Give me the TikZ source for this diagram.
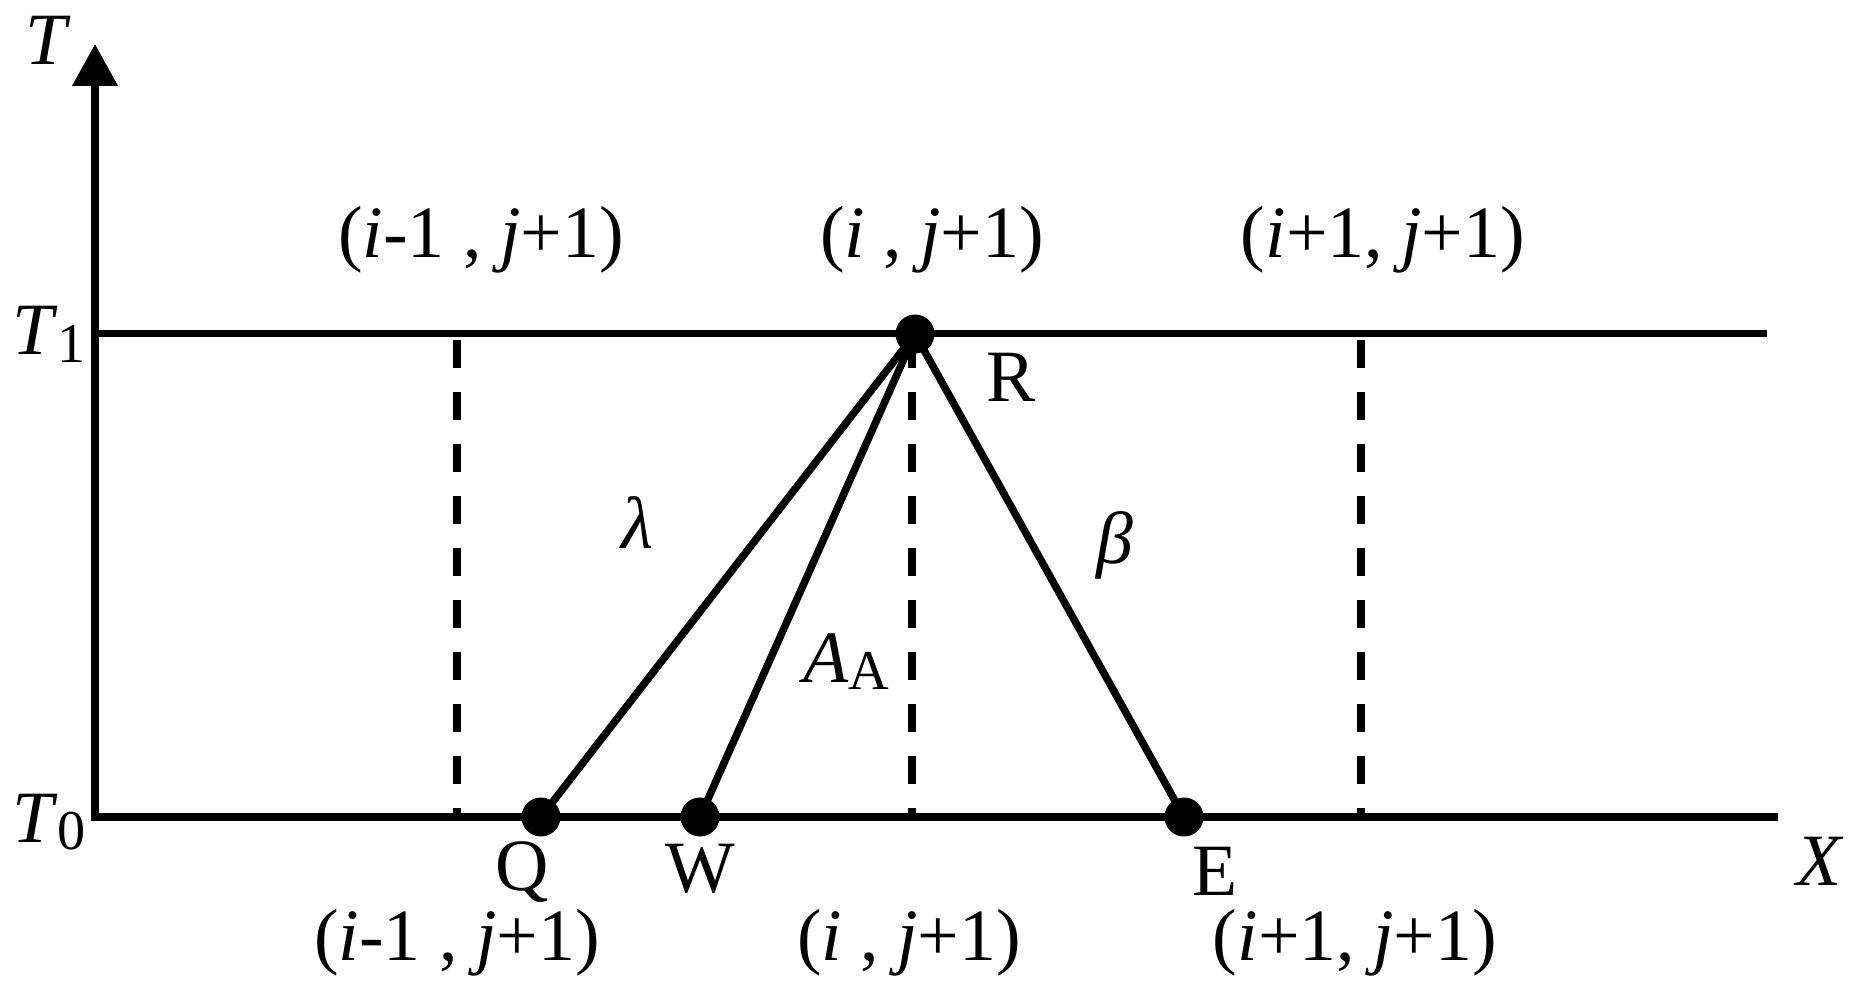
\documentclass[tikz,border=0pt]{standalone}
\usepackage{fontspec}
\setmainfont{Liberation Serif}
\usetikzlibrary{arrows.meta}

\newcommand{\lowsub}[1]{{\fontsize{32}{32}\selectfont\raisebox{-4pt}{#1}}}

\tikzset{
  axis/.style={line width=0.15cm, -{Triangle[length=0.84cm, width=0.88cm]}},
  gridline/.style={line width=0.15cm, dash pattern=on 0.56cm off 0.48cm},
  ray/.style={line width=0.15cm},
  dot/.style={circle, fill, inner sep=0pt, minimum size=0.78cm},
  lbl/.style={font=\fontsize{42}{50}\selectfont, inner sep=0pt, anchor=base},
}

\begin{document}
\begin{tikzpicture}[x=0.02cm, y=-0.02cm]
      \useasboundingbox (0,0) rectangle (1863,989);

      % axes
      \draw[axis, {Triangle[length=0.84cm, width=0.88cm]}-] (95,44) |- (1778,817);
      \draw[line width=0.14cm] (95,334) -- (1767,334);
      \node[lbl] (tlabel) at (48,65) {\textit{T}};
      \node[lbl] (xlabel) at (1820,885) {\textit{X}};
      \node[lbl, anchor=base west] (tone) at (12,355) {\textit{T}\lowsub{1}};
      \node[lbl, anchor=base west] (tzero) at (12,842) {\textit{T}\lowsub{0}};

      % dashed grid lines
      \foreach \x in {457, 912, 1361}
      \draw[gridline] (\x,340) -- (\x,814);

      % the points
      \node[dot] (R) at (915,334) {};
      \node[dot] (Q) at (541,817) {};
      \node[dot] (W) at (700,817) {};
      \node[dot] (E) at (1184,817) {};
      \draw[ray] (R.center) -- (Q.center);
      \draw[ray] (R.center) -- (W.center);
      \draw[ray] (R.center) -- (E.center);

      \node[lbl] (rname) at (1011,402) {R};
      \node[lbl] (qname) at (522,890) {Q};
      \node[lbl] (wname) at (700,892) {W};
      \node[lbl] (ename) at (1215,895) {E};
      \node[lbl, anchor=center] (lambda) at (637,523) {\textit{λ}};
      \node[lbl, anchor=center] (beta) at (1115,545) {\textit{β}};
      \node[lbl, anchor=base west] (area) at (803,682) {\textit{A}\lowsub{A}};

      % grid labels
      \node[lbl] (top1) at (481,258) {(\textit{i}-1 , \textit{j}+1)};
      \node[lbl] (top2) at (932,258) {(\textit{i} , \textit{j}+1)};
      \node[lbl] (top3) at (1383,258) {(\textit{i}+1, \textit{j}+1)};
      \node[lbl] (bot1) at (457,960) {(\textit{i}-1 , \textit{j}+1)};
      \node[lbl] (bot2) at (909,960) {(\textit{i} , \textit{j}+1)};
      \node[lbl] (bot3) at (1355,960) {(\textit{i}+1, \textit{j}+1)};
\end{tikzpicture}
\end{document}
